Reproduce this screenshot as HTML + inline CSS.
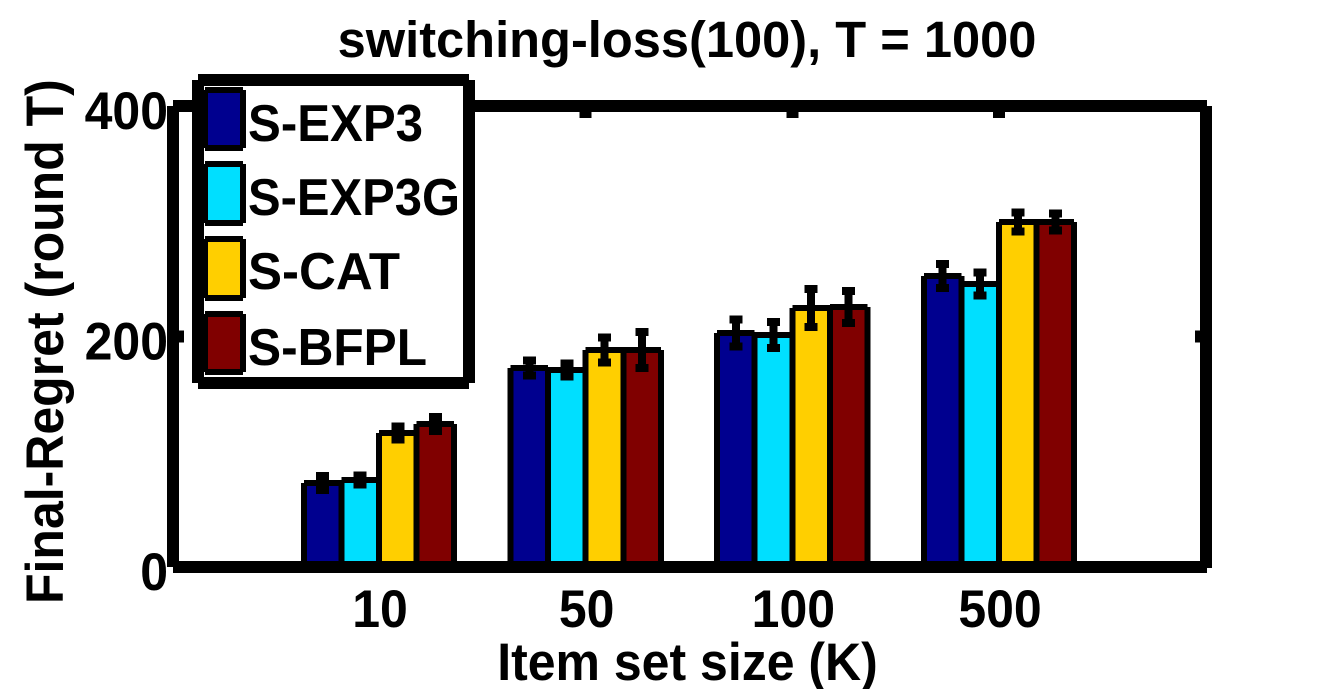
<!DOCTYPE html>
<html>
<head>
<meta charset="utf-8">
<style>
html,body{margin:0;padding:0;background:#fff;width:1333px;height:689px;overflow:hidden}
svg{display:block}
text{font-family:"Liberation Sans",sans-serif;font-weight:700;font-size:50px;fill:#000}
</style>
</head>
<body>
<svg id="chart" xmlns="http://www.w3.org/2000/svg" width="1333" height="689" viewBox="0 0 1333 689">
<rect x="0" y="0" width="1333" height="689" fill="#fff"/>
<text x="0" y="0" text-anchor="middle" style="font-size:50.6px" transform="translate(687 57)">switching-loss(100), T = 1000</text>
<text x="0" y="0" text-anchor="middle" transform="translate(687.5 680) scale(1 1.05)">Item set size (K)</text>
<text x="0" y="0" transform="translate(63 604) rotate(-90) scale(1 1.05)">Final-Regret (round T)</text>
<g id="marks" shape-rendering="crispEdges"></g>
<g id="axes" shape-rendering="crispEdges"></g>
<g id="labels"></g>
<g id="legend"></g>
</svg>
<script>
var categories = ['10', '50', '100', '500'];
var seriesNames = ['S-EXP3', 'S-EXP3G', 'S-CAT', 'S-BFPL'];
var seriesColors = ['#00008f', '#00dfff', '#ffcf00', '#800000'];
var sExp3 = [72.9, 172.7, 203, 252.5];
var sExp3g = [75.5, 171, 201.3, 245.6];
var sCat = [116.3, 188.3, 224.7, 299.3];
var sBfpl = [124, 188.3, 225.6, 299.3];
var sExp3Err = [6, 6.5, 11.7, 10.4];
var sExp3gErr = [3.9, 5.6, 11.3, 10];
var sCatErr = [5.6, 10.8, 16.5, 8.2];
var sBfplErr = [6, 15.6, 13.9, 7.4];
var yTicks = [0, 200, 400];

var seriesValues = [sExp3, sExp3g, sCat, sBfpl];
var seriesErrors = [sExp3Err, sExp3gErr, sCatErr, sBfplErr];
var NS = 'http://www.w3.org/2000/svg';
function y(v) { return 567 - v * 461 / 400; }
function x(i) { return 379 + i * 206.67; }
var barW = 37.6;
function make(parent, tag, attrs) {
  var el = document.createElementNS(NS, tag);
  for (var k in attrs) el.setAttribute(k, attrs[k]);
  parent.appendChild(el);
  return el;
}
function frame(g, left, top, w, h, fill, sw) {
  var half = sw / 2;
  make(g, 'rect', {x: left, y: top, width: w, height: h, fill: fill});
  make(g, 'rect', {x: left, y: top - half, width: w, height: sw, fill: '#000'});
  make(g, 'rect', {x: left - half, y: top, width: sw, height: h, fill: '#000'});
  make(g, 'rect', {x: left + w - half, y: top, width: sw, height: h, fill: '#000'});
  make(g, 'rect', {x: left, y: top + h - half, width: w, height: sw, fill: '#000'});
}
var marks = document.getElementById('marks');
var axes = document.getElementById('axes');
var labels = document.getElementById('labels');
var legend = document.getElementById('legend');

seriesValues.forEach(function (vals, s) {
  vals.forEach(function (v, i) {
    var left = x(i) + (s - 2) * barW;
    var bar = make(marks, 'g', {});
    
    
    frame(bar, left, y(v), barW, 567 - y(v), seriesColors[s], 6);
  });
});
seriesValues.forEach(function (vals, s) {
  vals.forEach(function (v, i) {
    var cx = x(i) + (s - 1.5) * barW;
    var hi = y(v + seriesErrors[s][i]);
    var lo = y(v - seriesErrors[s][i]);
    var g = make(marks, 'g', {fill: '#000'});
    
    
    make(g, 'rect', {x: cx - 4, y: hi, width: 8, height: lo - hi});
    make(g, 'rect', {x: cx - 6.5, y: hi - 4, width: 13, height: 8});
    make(g, 'rect', {x: cx - 6.5, y: lo - 4, width: 13, height: 8});
  });
});

var spines = [
  ['top', 173, 100, 1034, 12],
  ['bottom', 173, 561, 1034, 12],
  ['left', 167, 106, 12, 461],
  ['right', 1200, 106, 12, 462]
];
spines.forEach(function (p) {
  var sp = make(axes, 'rect', {x: p[1], y: p[2], width: p[3], height: p[4], fill: '#000'});
  
  
});
categories.forEach(function (c, i) {
  var tick = make(axes, 'rect', {x: x(i) - 6, y: 106, width: 12, height: 12, fill: '#000'});
  
  
  var lab = make(labels, 'text', {x: 0, y: 0, 'text-anchor': 'middle', transform: 'translate(' + (x(i) + 1) + ' 627) scale(1 1.05)'});
  lab.textContent = c;
  
  
});
yTicks.forEach(function (t) {
  var l = make(axes, 'rect', {x: 173, y: y(t) - 6, width: 11, height: 12, fill: '#000'});
  
  
  var r = make(axes, 'rect', {x: 1195, y: y(t) - 6, width: 11, height: 12, fill: '#000'});
  
  
  var lab = make(labels, 'text', {x: 0, y: 0, 'text-anchor': 'end', transform: 'translate(168 ' + (y(t) + 23) + ') scale(1 1.05)'});
  lab.textContent = String(t);
  
  
});

var box = make(legend, 'g', {'shape-rendering': 'crispEdges'});


frame(box, 198, 80, 271, 303, '#fff', 12);
var swatchTop = [90, 164, 239, 314];
var swatchH = [58, 59, 59, 58];
var legendBase = [141, 215, 289, 365];
var legendX = [248, 248, 248, 248];
var legendLen = [175, 212, 152, 179];
seriesNames.forEach(function (n, s) {
  var sw = make(legend, 'g', {'shape-rendering': 'crispEdges'});
  
  
  frame(sw, 205, swatchTop[s], 38, swatchH[s], seriesColors[s], 6);
  var t = make(legend, 'text', {x: 0, y: 0, textLength: legendLen[s], lengthAdjust: 'spacingAndGlyphs', transform: 'translate(' + legendX[s] + ' ' + legendBase[s] + ') scale(1 1.04)'});
  t.textContent = n;
  
  
});
</script>
</body>
</html>
